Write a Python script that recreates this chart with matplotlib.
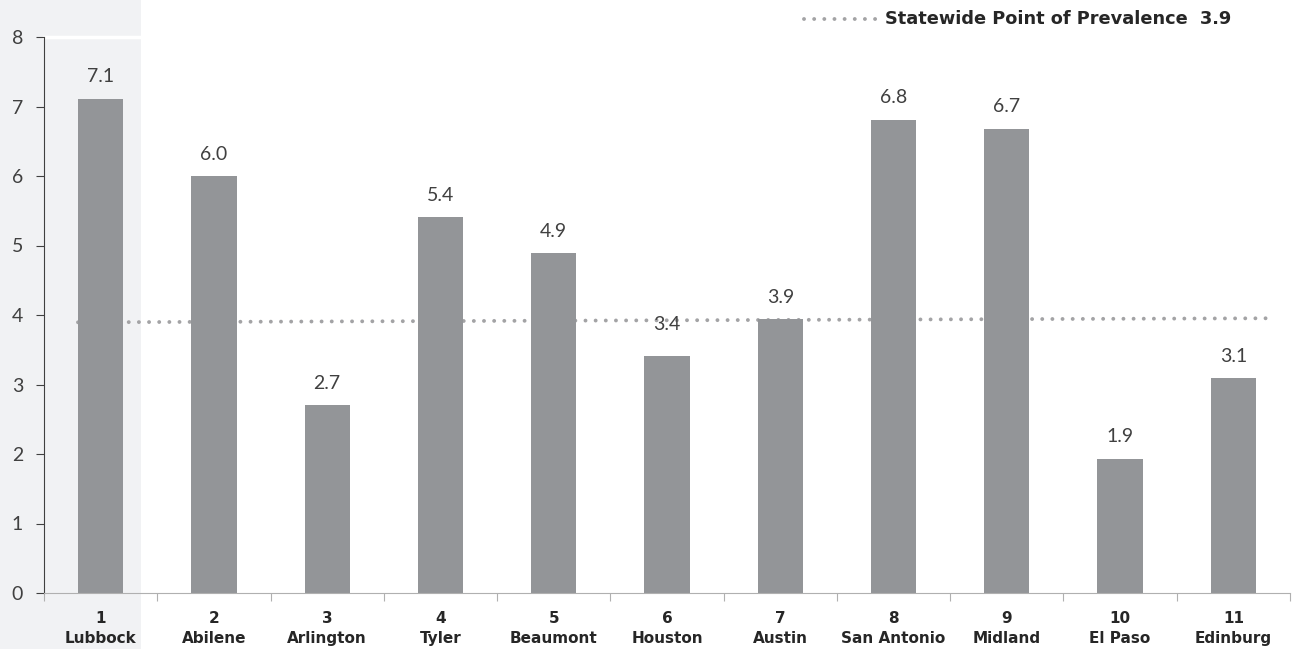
import matplotlib
matplotlib.use("Agg")
import matplotlib.pyplot as plt
from matplotlib.patches import Rectangle
from matplotlib.lines import Line2D

regions = ["1\nLubbock", "2\nAbilene", "3\nArlington", "4\nTyler", "5\nBeaumont",
           "6\nHouston", "7\nAustin", "8\nSan Antonio", "9\nMidland", "10\nEl Paso", "11\nEdinburg"]
values = [7.11, 6.0, 2.70, 5.41, 4.89, 3.41, 3.94, 6.81, 6.68, 1.93, 3.09]
value_labels = ["7.1", "6.0", "2.7", "5.4", "4.9", "3.4", "3.9", "6.8", "6.7", "1.9", "3.1"]
statewide_x = [0.80, 11.34]
statewide_y = [3.895, 3.953]
legend_text = "Statewide Point of Prevalence  3.9"
yticks = [0, 1, 2, 3, 4, 5, 6, 7, 8]

plt.rcParams['font.family'] = ['Lato', 'DejaVu Sans']
BOLD = ['DejaVu Sans']

fig = plt.figure(figsize=(12.92, 6.49), dpi=100)
# shaded panel behind first category
fig.add_artist(Rectangle((0, 0), 141/1292, 1, transform=fig.transFigure,
                         facecolor="#f1f2f4", edgecolor="none", zorder=0))
fig.add_artist(Line2D([44/1292, 141/1292], [1-37/649, 1-37/649], transform=fig.transFigure,
                      color="white", linewidth=2.5, zorder=0.5))
ax = fig.add_axes([44/1292, 1-593/649, 1246/1292, 556/649])
ax.set_zorder(1)
ax.set_facecolor("none")

x = list(range(1, len(values) + 1))
ax.plot(statewide_x, statewide_y, color="#a3a3a5", linewidth=2.8,
        linestyle=(0, (0.01, 2.6)), dash_capstyle="round", zorder=1)
ax.bar(x, values, width=0.4, color="#939598", zorder=2)
for xi, v, lab in zip(x, values, value_labels):
    dy = 32 if lab == "3.4" else 22
    ax.annotate(lab, (xi, v), xytext=(0, dy), textcoords="offset pixels",
                ha="center", va="center", fontsize=14, fontweight="normal", color="#404040",
                zorder=4)

ax.set_xlim(0.5, 11.5)
ax.set_ylim(0, 8)
ax.set_yticks(yticks)
ax.set_yticklabels([str(t) for t in yticks], fontsize=14, fontweight="normal", color="#404040")
ax.tick_params(axis="y", length=6, color="#404040", pad=9)

ax.set_xticks([i + 0.5 for i in range(0, len(values) + 1)])
ax.set_xticklabels([])
ax.tick_params(axis="x", which="major", length=6, color="#b0b0b0")
ax.set_xticks(x, minor=True)
ax.set_xticklabels(regions, minor=True, fontsize=11, fontweight="bold",
                   family=BOLD, color="#262626", linespacing=1.38)
ax.tick_params(axis="x", which="minor", length=0, pad=13)

for s in ["top", "right"]:
    ax.spines[s].set_visible(False)
ax.spines["left"].set_color("#404040")
ax.spines["bottom"].set_color("#b0b0b0")

# legend
fig.add_artist(Line2D([804/1292, 876/1292], [1-19/649, 1-19/649], transform=fig.transFigure,
                      color="#a3a3a5", linewidth=2.8, linestyle=(0, (0.01, 2.6)),
                      dash_capstyle="round"))
fig.text(885/1292, 1-19/649, legend_text, ha="left", va="center", fontsize=12.8,
         fontweight="bold", family=BOLD, color="#262626")

fig.savefig("out.png", dpi=100)
